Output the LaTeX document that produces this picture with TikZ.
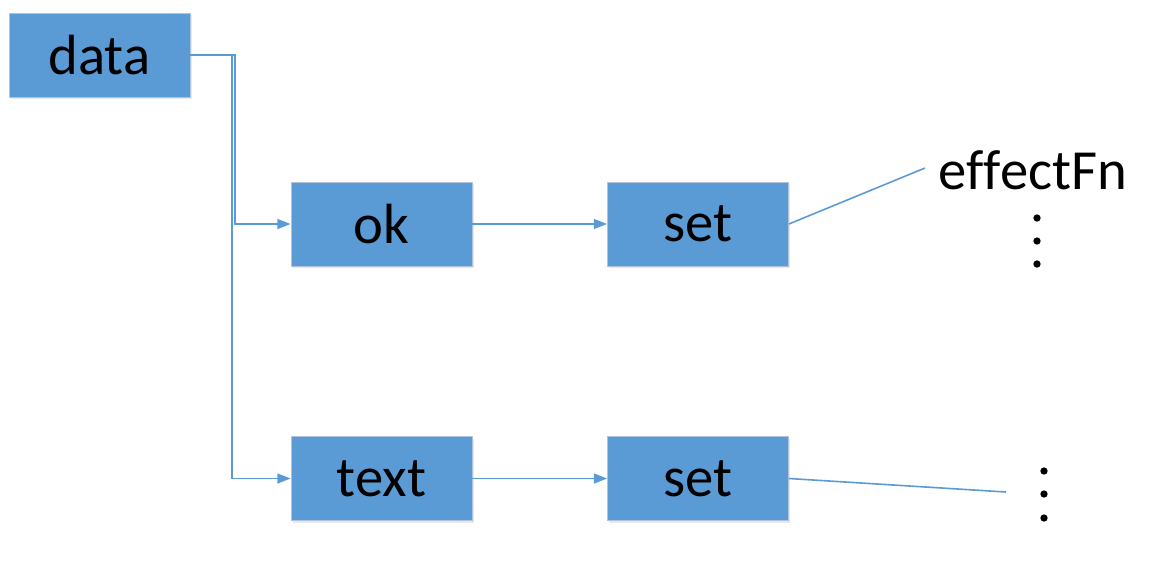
\documentclass[tikz,border=0pt]{standalone}
\usepackage{fontspec}
\setmainfont[RawFeature=-liga]{Carlito}
\usetikzlibrary{arrows.meta,shadows}
\definecolor{boxblue}{RGB}{91,155,213}
\definecolor{boxedge}{RGB}{175,195,220}
\begin{document}
\begin{tikzpicture}[x=0.75pt,y=-0.75pt,
  every node/.style={font=\fontsize{42.5}{50}\selectfont},
  blk/.style={rectangle, fill=boxblue, draw=boxedge, line width=0.6pt,
    minimum width=135.75pt, minimum height=63pt, inner sep=0pt,
    drop shadow={opacity=0.18, shadow xshift=1.2pt, shadow yshift=-1.5pt}},
  conn/.style={draw=boxblue, line width=1.2pt},
  arr/.style={conn, -{Triangle[length=10pt,width=7.5pt]}},
  dotm/.style={circle, fill=black, inner sep=0pt, minimum size=5.5pt}]
\useasboundingbox (0,0) rectangle (1173,579);
\node[blk] (data) at (99.5,55) {data};
\node[blk] (ok) at (381.5,224) {ok};
\node[blk] (set1) at (698,224) {set};
\node[blk] (text) at (381.5,478.5) {text};
\node[blk] (set2) at (698,478.5) {set};
\node[inner sep=0pt] (eff) at (1033,170) {ef\kern0pt f\kern0pt ectFn};
\coordinate (e1) at (925,168);
\coordinate (e2) at (1006,492);
\coordinate (j1) at (235,55);
\coordinate (j2) at (232,55);
\node[dotm] (d1) at (1037,218) {};
\node[dotm] (d2) at (1037,241) {};
\node[dotm] (d3) at (1037,264) {};
\node[dotm] (d4) at (1044,471) {};
\node[dotm] (d5) at (1044,494) {};
\node[dotm] (d6) at (1044,518) {};
\draw[arr] (data.east) -- (j1) |- (ok.west);
\draw[arr] (data.east) -- (j2) |- (text.west);
\draw[arr] (ok.east) -- (set1.west);
\draw[arr] (text.east) -- (set2.west);
\draw[conn] (set1.east) -- (e1);
\draw[conn] (set2.east) -- (e2);
\end{tikzpicture}
\end{document}
